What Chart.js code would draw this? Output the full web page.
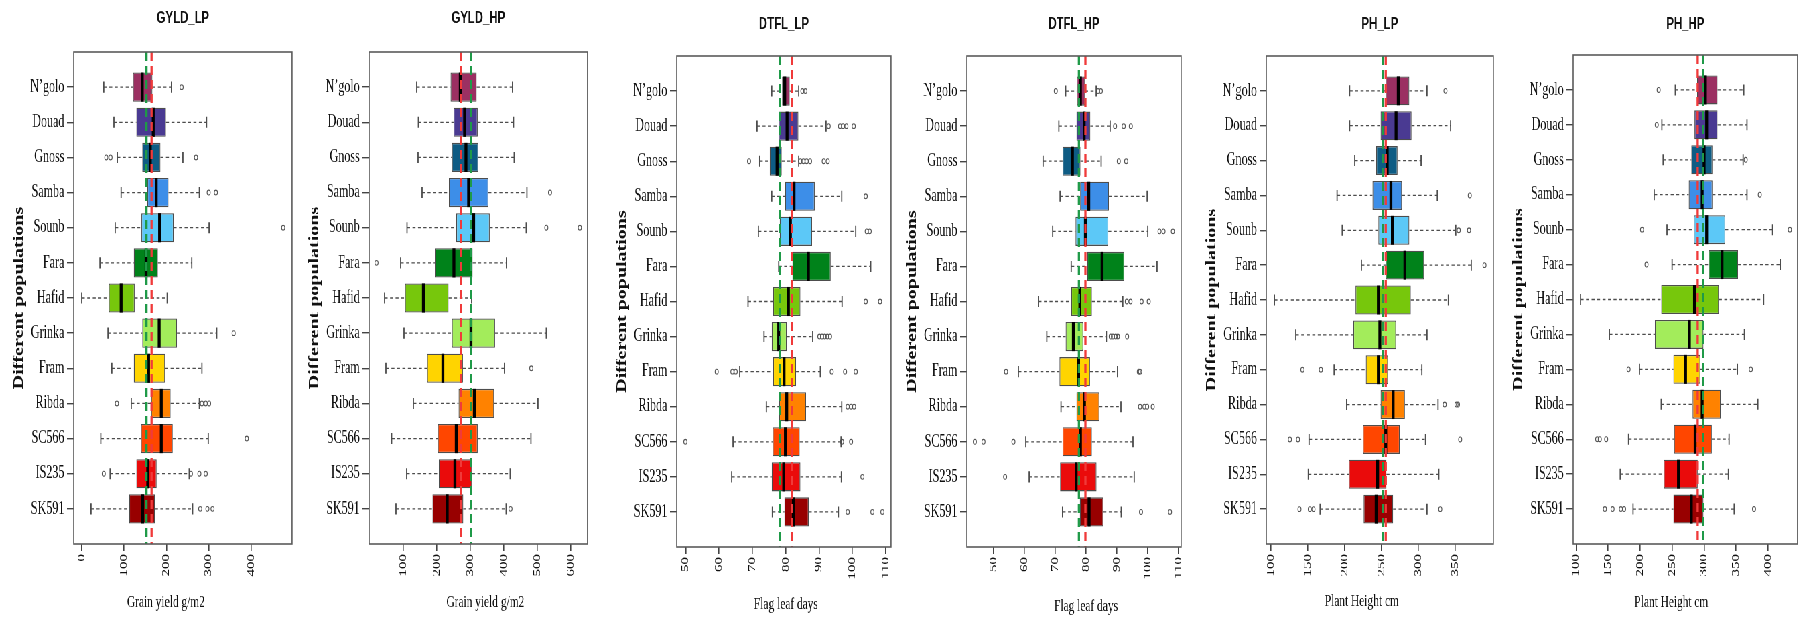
<!DOCTYPE html>
<html>
<head>
<meta charset="utf-8">
<script src="https://cdn.jsdelivr.net/npm/chart.js@4.4.1/dist/chart.umd.min.js"></script>
<style>
html, body { margin: 0; padding: 0; background: #fff; overflow: hidden; width: 1802px; height: 620px; }
#wrap { position: absolute; left: 0; top: 0; height: 620px; transform-origin: 0 0; }
#wrap canvas { position: absolute; top: 0; }
</style>
</head>
<body>
<div id="wrap"></div>
<script>
const populations = ['N\u2019golo', 'Douad', 'Gnoss', 'Samba', 'Sounb', 'Fara', 'Hafid', 'Grinka', 'Fram', 'Ribda', 'SC566', 'IS235', 'SK591'];
const popColors = ['#9b3062', '#4a3a92', '#0e5c84', '#3d8ee8', '#5cc8f7', '#00821a', '#77c70c', '#a3ec5b', '#ffd400', '#ff8200', '#ff4600', '#ea0b0b', '#980000'];

// each row: lower whisker, Q1, median, Q3, upper whisker
const gyldLpStats = [[52, 121, 143, 167, 212], [76, 129, 169, 199, 295], [84, 143, 162, 186, 239], [93, 155, 176, 205, 278], [79, 141, 184, 217, 301], [43, 123, 152, 180, 260], [0, 64, 93, 125, 202], [62, 143, 183, 225, 319], [71, 123, 158, 197, 284], [117, 164, 188, 210, 278], [45, 140, 188, 215, 299], [67, 129, 156, 177, 254], [22, 112, 144, 173, 262]];
const gyldLpOut = [[236], [], [58, 68, 270], [300, 317], [476], [], [], [359], [], [83, 284, 293, 301], [390], [52, 258, 278, 293], [280, 297, 309]];
const gyldLpRef = [153, 165];
const gyldLpTicks = [0, 100, 200, 300, 400];
const gyldLpRange = [-19, 497];

const gyldHpStats = [[140, 241, 270, 319, 426], [145, 250, 283, 322, 429], [144, 245, 287, 324, 431], [156, 236, 295, 354, 469], [111, 258, 310, 358, 467], [92, 194, 251, 307, 408], [44, 105, 160, 235, 304], [102, 245, 302, 374, 527], [48, 171, 218, 278, 402], [130, 265, 312, 371, 502], [65, 203, 258, 322, 481], [110, 206, 254, 305, 419], [78, 187, 231, 279, 407]];
const gyldHpOut = [[], [], [], [538], [527, 627], [20], [], [], [482], [], [], [], [420]];
const gyldHpRef = [302, 272];
const gyldHpTicks = [100, 200, 300, 400, 500, 600];
const gyldHpRange = [-2, 650];

const dtflLpStats = [[75.8, 78.9, 79.7, 81.2, 83.9], [71.4, 77.9, 80.4, 83.8, 92.1], [72.2, 75.2, 77.4, 78.8, 83.9], [75.8, 79.8, 82.5, 88.7, 96.8], [71.8, 78.2, 81.4, 87.9, 101.0], [77.9, 82.0, 86.8, 93.5, 105.5], [68.7, 76.2, 80.8, 84.4, 96.9], [73.5, 75.8, 77.9, 80.3, 88.1], [66.2, 76.2, 79.5, 83.1, 90.4], [74.2, 78.0, 80.3, 86.1, 96.8], [64.2, 76.1, 79.9, 84.2, 96.6], [63.8, 75.8, 79.4, 84.4, 96.7], [76.0, 79.6, 82.3, 86.9, 95.8]];
const dtflLpOut = [[85.0, 85.9], [92.9, 96.3, 97.2, 98.2, 100.4], [69.0, 84.4, 85.3, 86.3, 87.3, 91.4, 92.6], [104.0], [104.3, 105.2], [], [104.0, 108.3], [90.1, 90.9, 91.7, 92.5, 93.3], [59.3, 64.0, 65.0, 93.8, 97.8, 101.0], [98.6, 99.6, 100.5], [49.9, 96.9, 99.6], [103.0], [98.6, 106.0, 109.0]];
const dtflLpRef = [78.2, 81.9];
const dtflLpTicks = [50, 60, 70, 80, 90, 100, 110];
const dtflLpRange = [47.3, 111.6];

const dtflHpStats = [[73.4, 77.0, 78.2, 79.7, 83.3], [71.2, 76.9, 79.4, 81.4, 87.8], [66.1, 72.4, 75.6, 78.2, 84.9], [71.6, 78.1, 80.9, 87.4, 99.8], [69.2, 76.6, 79.8, 87.2, 100.0], [75.2, 80.4, 85.2, 92.4, 103.0], [64.6, 75.2, 78.0, 81.9, 91.9], [67.3, 73.4, 75.9, 79.1, 86.6], [58.1, 71.4, 77.6, 81.3, 90.2], [71.9, 76.9, 79.5, 84.3, 91.3], [60.5, 72.4, 78.2, 81.9, 95.2], [61.6, 71.6, 76.8, 83.4, 95.6], [72.4, 78.0, 81.0, 85.6, 91.4]];
const dtflHpOut = [[70.2, 83.9, 84.8], [89.4, 92.2, 94.5], [90.6, 93.0], [], [103.8, 105.1, 108.1], [], [93.2, 94.4, 98.0, 100.3], [88.0, 88.7, 89.6, 90.3, 93.3], [54.1, 97.1, 97.5], [97.5, 98.9, 99.8, 101.6], [44.0, 46.8, 56.5], [53.8], [97.8, 107.2]];
const dtflHpRef = [77.7, 79.8];
const dtflHpTicks = [50, 60, 70, 80, 90, 100, 110];
const dtflHpRange = [41.4, 110.8];

const phLpStats = [[207, 256, 273, 288, 312], [207, 249, 270, 291, 344], [214, 243, 258, 272, 304], [190, 238, 263, 278, 326], [197, 246, 265, 288, 351], [223, 256, 282, 308, 372], [105, 215, 246, 290, 341], [134, 212, 248, 270, 312], [186, 229, 246, 259, 305], [203, 249, 266, 282, 327], [152, 225, 256, 275, 310], [151, 206, 245, 257, 328], [167, 226, 243, 266, 312]];
const phLpOut = [[337], [], [], [370], [355, 369], [390], [], [], [143, 168], [336, 352, 354], [126, 137, 357], [], [139, 153, 158, 330]];
const phLpRef = [252, 256];
const phLpTicks = [100, 150, 200, 250, 300, 350];
const phLpRange = [94, 402];

const phHpStats = [[255, 289, 302, 321, 362], [234, 285, 304, 321, 367], [236, 280, 300, 313, 361], [222, 276, 297, 313, 367], [242, 284, 304, 333, 407], [250, 307, 328, 353, 419], [107, 233, 285, 323, 393], [152, 223, 277, 299, 363], [199, 252, 271, 294, 352], [233, 282, 297, 326, 384], [182, 253, 286, 312, 339], [169, 237, 260, 290, 338], [189, 252, 280, 299, 347]];
const phHpOut = [[229], [226], [365], [387], [203, 434], [210], [], [], [182, 373], [], [133, 137, 147], [], [145, 157, 170, 175, 378]];
const phHpRef = [298.5, 290];
const phHpTicks = [100, 150, 200, 250, 300, 350, 400];
const phHpRange = [95.4, 446];

const panels = [
    { title: 'GYLD_LP', xTitle: 'Grain yield g/m2', stats: gyldLpStats, out: gyldLpOut, ref: gyldLpRef, ticks: gyldLpTicks, range: gyldLpRange },
    { title: 'GYLD_HP', xTitle: 'Grain yield g/m2', stats: gyldHpStats, out: gyldHpOut, ref: gyldHpRef, ticks: gyldHpTicks, range: gyldHpRange },
    { title: 'DTFL_LP', xTitle: 'Flag leaf days', stats: dtflLpStats, out: dtflLpOut, ref: dtflLpRef, ticks: dtflLpTicks, range: dtflLpRange },
    { title: 'DTFL_HP', xTitle: 'Flag leaf days', stats: dtflHpStats, out: dtflHpOut, ref: dtflHpRef, ticks: dtflHpTicks, range: dtflHpRange },
    { title: 'PH_LP', xTitle: 'Plant Height cm', stats: phLpStats, out: phLpOut, ref: phLpRef, ticks: phLpTicks, range: phLpRange },
    { title: 'PH_HP', xTitle: 'Plant Height cm', stats: phHpStats, out: phHpOut, ref: phHpRef, ticks: phHpTicks, range: phHpRange }
];

// page layout, in screen pixels (the drawing is squeezed horizontally like the original)
const SQUISH = 0.67;
const H = 620;
const Y_AXIS_W = 93;
const RIGHT_PAD = 4;
const SERIF = '"Liberation Serif", "Times New Roman", serif';
const layout = [
    { left: 74, right: 293, top: 52, bottom: 544, titleY: 18, xTitleDx: -17, xTitleY: 603 },
    { left: 369, right: 588, top: 52, bottom: 544, titleY: 18, xTitleDx: 7, xTitleY: 603 },
    { left: 677, right: 892, top: 56, bottom: 547, titleY: 24, xTitleDx: 2, xTitleY: 605 },
    { left: 967, right: 1182, top: 56, bottom: 547, titleY: 24, xTitleDx: 12, xTitleY: 607 },
    { left: 1266, right: 1494, top: 56, bottom: 544, titleY: 24, xTitleDx: -18, xTitleY: 602 },
    { left: 1573, right: 1798, top: 55, bottom: 544, titleY: 24, xTitleDx: -14, xTitleY: 603 }
];

const boxExtras = {
    id: 'boxExtras',
    afterDatasetsDraw(chart, args, opts) {
        const { ctx, chartArea: a, scales: { x, y } } = chart;
        const p = opts.panel;
        const bars = chart.getDatasetMeta(0).data;
        ctx.save();
        ctx.beginPath();
        ctx.rect(a.left, a.top, a.right - a.left, a.bottom - a.top);
        ctx.clip();
        p.stats.forEach((s, i) => {
            const cy = y.getPixelForValue(i + 1);
            const h = bars[i + 1].height;
            const [lo, q1, med, q3, hi] = s.map(v => x.getPixelForValue(v));
            ctx.strokeStyle = '#4d4d4d';
            ctx.lineWidth = 1.3;
            ctx.setLineDash([4.5, 3.7]);
            ctx.beginPath();
            ctx.moveTo(lo, cy); ctx.lineTo(q1, cy);
            ctx.moveTo(q3, cy); ctx.lineTo(hi, cy);
            ctx.stroke();
            ctx.setLineDash([]);
            ctx.lineWidth = 1.8;
            const c = h * 0.19;
            ctx.beginPath();
            ctx.moveTo(lo, cy - c); ctx.lineTo(lo, cy + c);
            ctx.moveTo(hi, cy - c); ctx.lineTo(hi, cy + c);
            ctx.stroke();
            ctx.strokeStyle = '#000';
            ctx.lineWidth = 4.3;
            ctx.beginPath();
            ctx.moveTo(med, cy - h / 2); ctx.lineTo(med, cy + h / 2);
            ctx.stroke();
        });
        // green and red reference lines over the boxes
        ctx.lineWidth = 3.3;
        ctx.setLineDash([9, 5]);
        [[p.ref[0], '#1f9a48'], [p.ref[1], '#f03a3a']].forEach(([v, col]) => {
            const px = x.getPixelForValue(v);
            ctx.strokeStyle = col;
            ctx.beginPath();
            ctx.moveTo(px, a.top); ctx.lineTo(px, a.bottom);
            ctx.stroke();
        });
        ctx.restore();

        ctx.save();
        ctx.strokeStyle = '#5a5a5a';
        ctx.lineWidth = 1.6;
        ctx.strokeRect(a.left, a.top, a.right - a.left, a.bottom - a.top);
        ctx.restore();
    },
    afterDraw(chart, args, opts) {
        const { ctx, chartArea: a } = chart;
        const L = opts.layout;
        const cx = (a.left + a.right) / 2;
        ctx.save();
        ctx.fillStyle = '#111';
        ctx.textAlign = 'center';
        ctx.textBaseline = 'middle';
        ctx.font = 'bold 17px "Liberation Sans", Arial, sans-serif';
        ctx.fillText(opts.panel.title, cx, L.titleY);
        ctx.font = '17px ' + SERIF;
        ctx.fillText(opts.panel.xTitle, cx + L.xTitleDx / SQUISH, L.xTitleY);
        ctx.restore();
    }
};

const wrap = document.getElementById('wrap');
wrap.style.width = (1802 / SQUISH) + 'px';
wrap.style.transform = 'scaleX(' + SQUISH + ')';

panels.forEach((p, k) => {
    const L = layout[k];
    const plotW = (L.right - L.left) / SQUISH;
    const cv = document.createElement('canvas');
    cv.width = Math.round(Y_AXIS_W + plotW + RIGHT_PAD);
    cv.height = H;
    cv.style.left = (L.left / SQUISH - Y_AXIS_W) + 'px';
    wrap.appendChild(cv);

    const labels = ['', ...populations, ''];
    const outliers = [];
    p.out.forEach((vals, i) => vals.forEach(v => outliers.push({ x: v, y: populations[i] })));

    new Chart(cv, {
        type: 'bar',
        data: {
            labels: labels,
            datasets: [{
                type: 'bar',
                data: [null, ...p.stats.map(s => [s[1], s[3]]), null],
                backgroundColor: ['rgba(0,0,0,0)', ...popColors, 'rgba(0,0,0,0)'],
                borderColor: '#4d4d4d',
                borderWidth: 1.3,
                borderSkipped: false,
                categoryPercentage: 1,
                barPercentage: 0.83,
                order: 2
            }, {
                type: 'scatter',
                data: outliers,
                pointStyle: 'circle',
                pointRadius: 2.4,
                pointBorderWidth: 1.1,
                borderColor: '#555',
                backgroundColor: 'rgba(0,0,0,0)',
                order: 1
            }]
        },
        options: {
            indexAxis: 'y',
            responsive: false,
            animation: false,
            devicePixelRatio: 1,
            events: [],
            layout: { padding: { top: L.top, right: RIGHT_PAD, left: 0, bottom: 0 } },
            plugins: {
                legend: { display: false },
                tooltip: { enabled: false },
                boxExtras: { panel: p, layout: L }
            },
            scales: {
                x: {
                    type: 'linear',
                    min: p.range[0],
                    max: p.range[1],
                    grid: { drawOnChartArea: false, tickLength: 7, color: '#444', lineWidth: 1.6 },
                    border: { display: false },
                    ticks: { autoSkip: false, minRotation: 90, maxRotation: 90, padding: 3, color: '#111', font: { family: SERIF, size: 15 } },
                    afterBuildTicks: s => { s.ticks = p.ticks.map(v => ({ value: v })); },
                    afterFit: s => { s.height = H - L.bottom; s.paddingLeft = 0; s.paddingRight = 0; }
                },
                y: {
                    type: 'category',
                    offset: false,
                    grid: {
                        offset: false,
                        drawOnChartArea: false,
                        tickLength: 10,
                        lineWidth: 1.4,
                        color: c => (c.index === 0 || c.index === labels.length - 1) ? 'rgba(0,0,0,0)' : '#444'
                    },
                    border: { display: false },
                    ticks: { autoSkip: false, padding: 4, color: '#111', font: { family: SERIF, size: 18 } },
                    title: { display: true, text: 'Different populations', color: '#111', padding: 0, font: { family: SERIF, size: 20, weight: 'bold' } },
                    afterFit: s => { s.width = Y_AXIS_W; s.paddingTop = 0; s.paddingBottom = 0; }
                }
            }
        },
        plugins: [boxExtras]
    });
});
</script>
</body>
</html>
